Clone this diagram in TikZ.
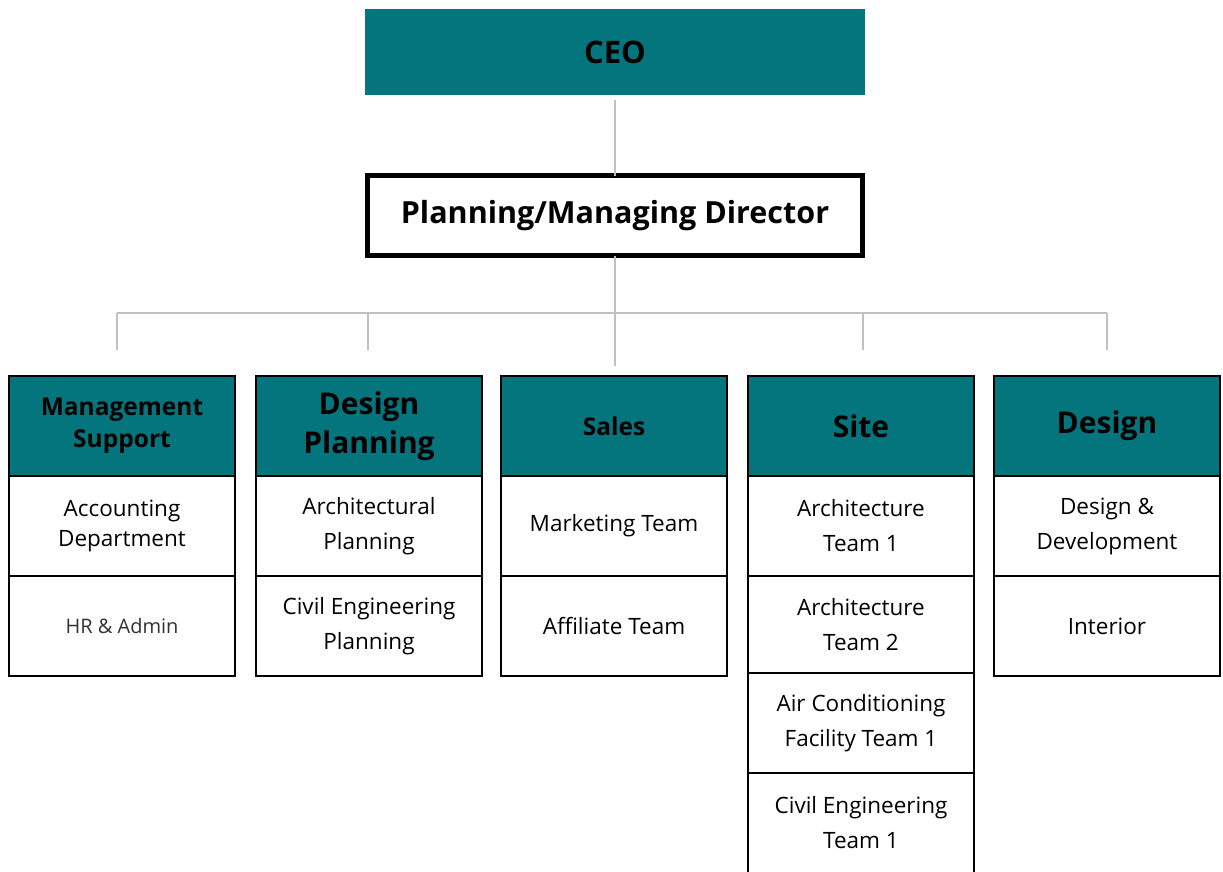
\documentclass[tikz,border=0pt]{standalone}
\usepackage{fontspec}
\setmainfont{Open Sans}
\definecolor{teal1}{RGB}{4,117,124}
\definecolor{conn}{RGB}{192,192,192}
\definecolor{txtgray}{RGB}{50,50,50}
\tikzset{
  cell/.style={draw=black, line width=2.4pt, fill=white, anchor=north west, outer sep=0pt, minimum width=226pt, align=center, inner sep=0pt, font=\fontsize{22.5}{35}\selectfont},
  hdr/.style={cell, fill=teal1, font=\bfseries\fontsize{24.5}{32}\selectfont},
  hdrbig/.style={hdr, font=\bfseries\fontsize{30}{39}\selectfont},
  link/.style={draw=conn, line width=2.6pt}
}
\begin{document}
\begin{tikzpicture}[x=1pt,y=-1pt]
\useasboundingbox (0,0) rectangle (1223,871);
\clip (0,0) rectangle (1223,871);
% top
\node[fill=teal1, anchor=north west, outer sep=0pt, minimum width=500pt, minimum height=86pt, inner sep=0pt, font=\bfseries\fontsize{31}{36}\selectfont] (ceo) at (365,9) {CEO};
\node[draw=black, line width=5pt, fill=white, anchor=north west, outer sep=0pt, minimum width=495pt, minimum height=80pt, inner sep=0pt, font=\bfseries\fontsize{30.5}{36}\selectfont] (dir) at (367.5,175.5) {Planning/Managing Director};
% connector coordinates
\coordinate (cs) at (615,100);
\coordinate (bl) at (117,313);
\coordinate (br) at (1107,313);
\coordinate (d1t) at (117,313);
\coordinate (d1) at (117,350);
\coordinate (d2t) at (368,313);
\coordinate (d2) at (368,350);
\coordinate (d3) at (615,366);
\coordinate (d4t) at (863,313);
\coordinate (d4) at (863,350);
\coordinate (d5t) at (1107,313);
\coordinate (d5) at (1107,350);
\draw[link] (cs) -- (dir.north);
\draw[link] (dir.south) -- (d3);
\draw[link] (bl) -- (br);
\draw[link] (d1t) -- (d1);
\draw[link] (d2t) -- (d2);
\draw[link] (d4t) -- (d4);
\draw[link] (d5t) -- (d5);
% column 1
\node[hdr, minimum height=100pt] (h1) at (9,376) {Management\\Support};
\node[cell, minimum height=100pt, font=\fontsize{22.5}{30}\selectfont] (c11) at (9,476) {Accounting\\Department};
\node[cell, minimum height=100pt, font=\fontsize{20}{24}\selectfont, text=txtgray] (c12) at (9,576) {HR \& Admin};
% column 2
\node[hdrbig, minimum height=100pt] (h2) at (256,376) {Design\\Planning};
\node[cell, minimum height=100pt] (c21) at (256,476) {Architectural\\Planning};
\node[cell, minimum height=100pt] (c22) at (256,576) {Civil Engineering\\Planning};
% column 3
\node[hdr, minimum height=100pt] (h3) at (501,376) {Sales};
\node[cell, minimum height=100pt] (c31) at (501,476) {Marketing Team};
\node[cell, minimum height=100pt] (c32) at (501,576) {Affiliate Team};
% column 4
\node[hdrbig, minimum height=100pt] (h4) at (748,376) {Site};
\node[cell, minimum height=100pt] (c41) at (748,476) {Architecture\\Team 1};
\node[cell, minimum height=97pt] (c42) at (748,576) {Architecture\\Team 2};
\node[cell, minimum height=100pt] (c43) at (748,673) {Air Conditioning\\Facility Team 1};
\node[cell, minimum height=100pt] (c44) at (748,773) {Civil Engineering\\Team 1};
% column 5
\node[hdrbig, minimum height=100pt] (h5) at (994,376) {Design};
\node[cell, minimum height=100pt] (c51) at (994,476) {Design \&\\Development};
\node[cell, minimum height=100pt] (c52) at (994,576) {Interior};
\end{tikzpicture}
\end{document}
